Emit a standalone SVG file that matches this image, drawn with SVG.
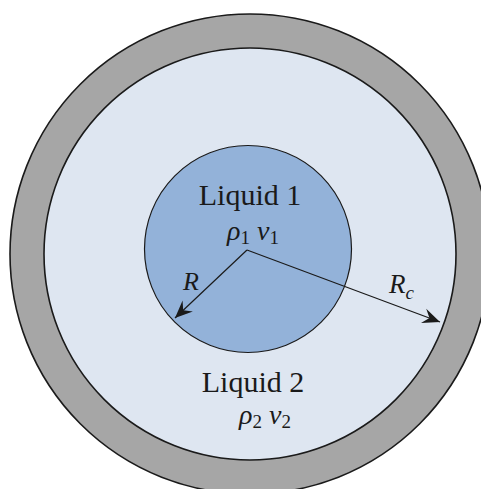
<svg xmlns="http://www.w3.org/2000/svg" width="481" height="489" viewBox="0 0 481 489">
<style>
.edge{stroke:#1a1a1a;stroke-width:1.6}
.lbl{font-family:"Liberation Serif","DejaVu Serif",serif;fill:#1a1a1a}
.it{font-style:italic}
.conn{stroke:#1a1a1a;stroke-width:1.2;fill:none}
</style>
<defs>
<marker id="arr" markerUnits="userSpaceOnUse" markerWidth="20" markerHeight="20" viewBox="-14 -8 16 16" refX="0" refY="0" orient="auto">
<path d="M0,0 L-14,-6 L-9,0 L-14,6 Z" fill="#1a1a1a"/>
</marker>
</defs>
<rect width="481" height="489" fill="#ffffff"/>
<g id="wall">
<circle cx="250" cy="254" r="240" fill="#a6a6a6" class="edge"/>
</g>
<g id="liquid2">
<circle cx="250" cy="254" r="206" fill="#dee6f1" class="edge"/>
<text class="lbl" x="253" y="392" font-size="30" text-anchor="middle">Liquid 2</text>
<text class="lbl" x="265" y="424" font-size="28" text-anchor="middle"><tspan class="it">ρ</tspan><tspan font-size="19" dy="4">2</tspan><tspan dy="-4"> </tspan><tspan class="it">ν</tspan><tspan font-size="19" dy="4">2</tspan></text>
</g>
<g id="liquid1">
<circle cx="248" cy="249" r="103.5" fill="#93b2d9" stroke="#1a1a1a" stroke-width="1.2"/>
<text class="lbl" x="250" y="205" font-size="30" text-anchor="middle">Liquid 1</text>
<text class="lbl" x="253" y="240" font-size="28" text-anchor="middle"><tspan class="it">ρ</tspan><tspan font-size="19" dy="4">1</tspan><tspan dy="-4"> </tspan><tspan class="it">ν</tspan><tspan font-size="19" dy="4">1</tspan></text>
</g>
<g id="connectors">
<line class="conn" x1="247" y1="250" x2="175" y2="318" marker-end="url(#arr)"/>
<line class="conn" x1="247" y1="250" x2="440" y2="322" marker-end="url(#arr)"/>
</g>
<g id="labels">
<text class="lbl it" x="183" y="290" font-size="26">R</text>
<text class="lbl" x="389" y="293" font-size="27"><tspan class="it">R</tspan><tspan class="it" font-size="19" dy="6">c</tspan></text>
</g>
</svg>
